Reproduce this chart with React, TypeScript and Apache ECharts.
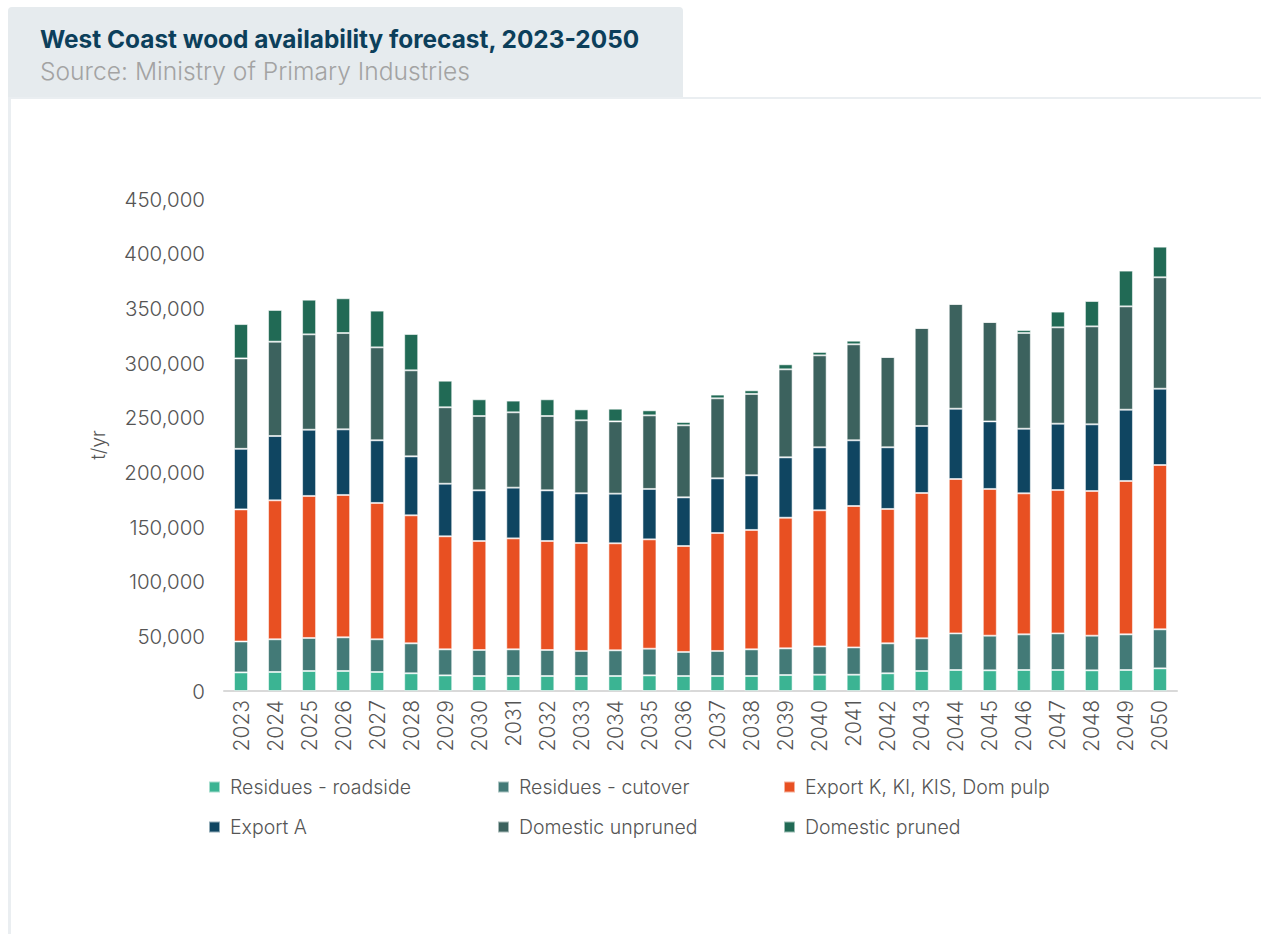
import React, { useEffect, useRef } from "react";
import * as echarts from "echarts";

const years = [
  "2023", "2024", "2025", "2026", "2027", "2028", "2029", "2030", "2031", "2032",
  "2033", "2034", "2035", "2036", "2037", "2038", "2039", "2040", "2041", "2042",
  "2043", "2044", "2045", "2046", "2047", "2048", "2049", "2050",
];

const residuesRoadside = [
  17000, 17400, 18300, 18300, 17400, 16200, 14300, 13700, 13700, 13700,
  13700, 13700, 14300, 13700, 13700, 13700, 14600, 14900, 14900, 16200,
  18300, 19200, 18900, 19200, 19200, 18900, 19200, 20700,
];
const residuesCutover = [
  28300, 29900, 30200, 30800, 29900, 27400, 23800, 23800, 24400, 23800,
  22900, 23500, 24400, 22000, 22900, 24400, 24400, 25900, 25000, 27400,
  29900, 33500, 31700, 32600, 33500, 31700, 32600, 35700,
];
const exportK = [
  120800, 127100, 129900, 130200, 124700, 117100, 103400, 99700, 101500, 99700,
  98800, 97900, 100000, 96900, 107900, 109200, 119500, 124500, 129300, 122900,
  132900, 141200, 134200, 129000, 131100, 132300, 140300, 150300,
];
const exportA = [
  55400, 58800, 60600, 60000, 57300, 53900, 48100, 46300, 46400, 46300,
  45400, 45400, 46100, 44500, 50000, 50000, 55200, 57600, 60100, 56400,
  61300, 64300, 61800, 59100, 60700, 61000, 65200, 69800,
];
const domesticUnpruned = [
  82700, 86300, 87200, 88100, 85000, 78700, 69900, 68000, 68900, 68000,
  66800, 66100, 67300, 65900, 73200, 74400, 80500, 84100, 87800, 82600,
  89600, 95800, 90900, 87600, 88100, 89600, 94500, 101900,
];
const domesticPruned = [
  31400, 29000, 31700, 31800, 33600, 33200, 24300, 15300, 10700, 15300,
  10000, 11600, 4600, 3000, 3400, 3300, 4600, 3100, 3300, 0,
  0, 0, 0, 2700, 14400, 23200, 32700, 28000,
];

const seriesNames = [
  "Residues - roadside",
  "Residues - cutover",
  "Export K, KI, KIS, Dom pulp",
  "Export A",
  "Domestic unpruned",
  "Domestic pruned",
];
const seriesData = [
  residuesRoadside,
  residuesCutover,
  exportK,
  exportA,
  domesticUnpruned,
  domesticPruned,
];
const seriesColors = ["#3bb493", "#437a77", "#e85022", "#0f4561", "#3c625e", "#216a55"];

const legendPos = [
  { left: 203, top: 772 },
  { left: 492, top: 772 },
  { left: 778, top: 772 },
  { left: 203, top: 812 },
  { left: 492, top: 812 },
  { left: 778, top: 812 },
];

const FONT = "Inter";

export default function App() {
  const ref = useRef<HTMLDivElement>(null);

  useEffect(() => {
    if (!ref.current) return;
    const chart = echarts.init(ref.current, undefined, { renderer: "svg" });

    const option: any = {
      animation: false,
      backgroundColor: "#ffffff",
      textStyle: { fontFamily: FONT },
      title: {
        text: "West Coast wood availability forecast, 2023-2050",
        subtext: "Source: Ministry of Primary Industries",
        left: 35,
        top: 22,
        itemGap: 7,
        textStyle: {
          fontFamily: FONT,
          fontSize: 24.4,
          fontWeight: "bold",
          color: "#0c3f5b",
        },
        subtextStyle: {
          fontFamily: FONT,
          fontSize: 24.6,
          fontWeight: 300,
          color: "#a3a3a3",
        },
      },
      graphic: [
        {
          type: "rect",
          z: -10,
          shape: { x: 8, y: 7, width: 675, height: 90, r: [4, 4, 0, 0] },
          style: { fill: "#e6ebee" },
        },
        {
          type: "rect",
          z: -10,
          shape: { x: 8, y: 97, width: 1253, height: 2 },
          style: { fill: "#eaeef1" },
        },
        {
          type: "rect",
          z: -10,
          shape: { x: 8, y: 97, width: 3, height: 837 },
          style: { fill: "#eaeef1" },
        },
      ],
      legend: seriesNames.map((n, i) => ({
        data: [n],
        left: legendPos[i].left,
        top: legendPos[i].top,
        icon: "rect",
        itemWidth: 11,
        itemHeight: 11,
        itemGap: 10,
        selectedMode: false,
        textStyle: { fontFamily: FONT, fontSize: 19.5, fontWeight: 300, color: "#555555", padding: [0, 0, 0, 5] },
      })),
      grid: {
        left: 224,
        right: 84,
        top: 199,
        bottom: 243,
        containLabel: false,
      },
      xAxis: {
        type: "category",
        data: years,
        axisLine: { show: true, lineStyle: { color: "#d9d9d9", width: 2 } },
        axisTick: { show: false },
        axisLabel: {
          rotate: 90,
          fontFamily: FONT,
          fontSize: 21,
          fontWeight: 300,
          color: "#555555",
          margin: 9,
          interval: 0,
        },
      },
      yAxis: {
        type: "value",
        min: 0,
        max: 450000,
        interval: 50000,
        name: "t/yr",
        nameLocation: "middle",
        nameRotate: 90,
        nameGap: 116,
        nameTextStyle: { fontFamily: FONT, fontSize: 19, fontWeight: 300, color: "#555555" },
        axisLine: { show: false },
        axisTick: { show: false },
        splitLine: { show: false },
        axisLabel: {
          fontFamily: FONT,
          fontSize: 20.5,
          fontWeight: 300,
          color: "#555555",
          margin: 19,
          formatter: (v: number) => v.toLocaleString("en-US"),
        },
      },
      series: seriesNames.map((n, i) => ({
        name: n,
        type: "bar",
        stack: "total",
        barWidth: 14,
        data: seriesData[i],
        itemStyle: {
          color: seriesColors[i],
          borderColor: "rgba(255,255,255,0.55)",
          borderWidth: 1,
        },
      })),
    };

    chart.setOption(option);
    return () => chart.dispose();
  }, []);

  return (
    <div
      ref={ref}
      style={{ position: "absolute", left: 0, top: 0, width: 1261, height: 934 }}
    />
  );
}
